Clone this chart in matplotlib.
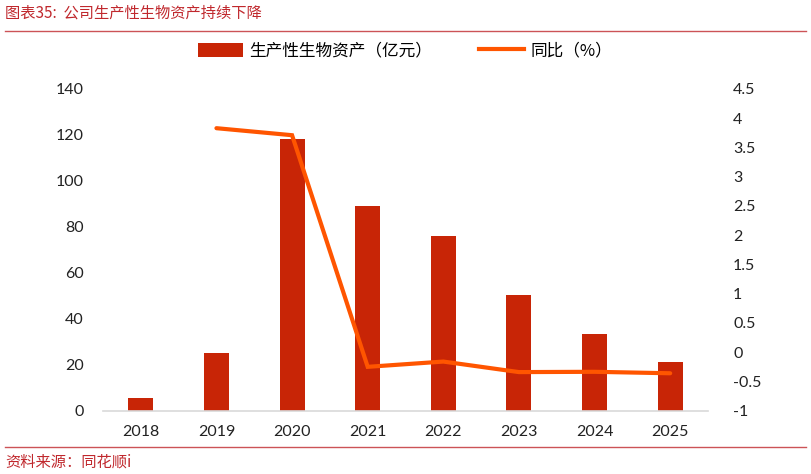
import matplotlib
matplotlib.use("Agg")
import matplotlib.pyplot as plt
import numpy as np
from matplotlib.lines import Line2D
from matplotlib.patches import Patch
from matplotlib.ticker import FuncFormatter

years = ["2018", "2019", "2020", "2021", "2022", "2023", "2024", "2025"]
assets = [5.4, 25.2, 118.1, 89.2, 76.0, 50.3, 33.4, 21.3]
yoy = [np.nan, 3.83, 3.71, -0.25, -0.16, -0.34, -0.335, -0.36]
left_ticks = [0, 20, 40, 60, 80, 100, 120, 140]
right_ticks = [-1, -0.5, 0, 0.5, 1, 1.5, 2, 2.5, 3, 3.5, 4, 4.5]

plt.rcParams['font.family'] = ['Lato', 'Noto Sans CJK SC', 'DejaVu Sans']
plt.rcParams['axes.unicode_minus'] = False

BAR = "#C82506"
LINE = "#FF5500"
RED = "#C0282D"

fig = plt.figure(figsize=(8.11, 4.74), dpi=100)
ax = fig.add_axes([103/811, 1-410.7/474, (708-103)/811, (410.7-89)/474])
x = np.arange(len(years))
ax.bar(x, assets, width=0.33, color=BAR, zorder=2)
ax.set_ylim(0, 140)
ax.set_yticks(left_ticks)
ax.set_xlim(-0.5, len(years)-0.5)
ax.set_xticks(x)
ax.set_xticklabels(years)
for s in ['top', 'right', 'left']:
    ax.spines[s].set_visible(False)
ax.spines['bottom'].set_color('#D9D9D9')
ax.spines['bottom'].set_linewidth(1.2)
ax.tick_params(axis='both', length=0, labelsize=11.5, colors='#222222')
ax.tick_params(axis='y', pad=14)
ax.tick_params(axis='x', pad=10)

ax2 = ax.twinx()
ax2.plot(x, yoy, color=LINE, lw=3, solid_capstyle='round', solid_joinstyle='miter', zorder=3)
ax2.set_ylim(-1, 4.5)
ax2.set_yticks(right_ticks)
ax2.yaxis.set_major_formatter(FuncFormatter(lambda v, p: f"{v:g}"))
for s in ['top', 'right', 'left', 'bottom']:
    ax2.spines[s].set_visible(False)
ax2.tick_params(axis='y', length=0, labelsize=11.5, colors='#222222', pad=18)

handles = [Patch(facecolor=BAR, edgecolor='none'),
           Line2D([0], [0], color=LINE, lw=3)]
labels = ["生产性生物资产（亿元）", "同比（%）"]
fig.legend(handles, labels, loc='center', bbox_to_anchor=(405/811, 1-51/474),
           ncol=2, frameon=False, handlelength=2.7, handleheight=0.9,
           columnspacing=2.8, handletextpad=0.4,
           prop={'family': ['Noto Sans CJK SC'], 'size': 12})

fig.text(5/811, 1-13/474, "图表35:  公司生产性生物资产持续下降", color=RED,
         fontsize=11, va='center', ha='left', family=['Noto Sans CJK SC'], style='italic')
fig.add_artist(Line2D([5/811, 806/811], [1-31/474, 1-31/474], color=RED, lw=1, alpha=0.8))
fig.add_artist(Line2D([5/811, 806/811], [1-447/474, 1-447/474], color=RED, lw=1, alpha=0.8))
fig.text(5/811, 1-462/474, "资料来源：同花顺i", color=RED,
         fontsize=11, va='center', ha='left', family=['Noto Sans CJK SC'], style='italic')

fig.savefig("out.png", dpi=100)
